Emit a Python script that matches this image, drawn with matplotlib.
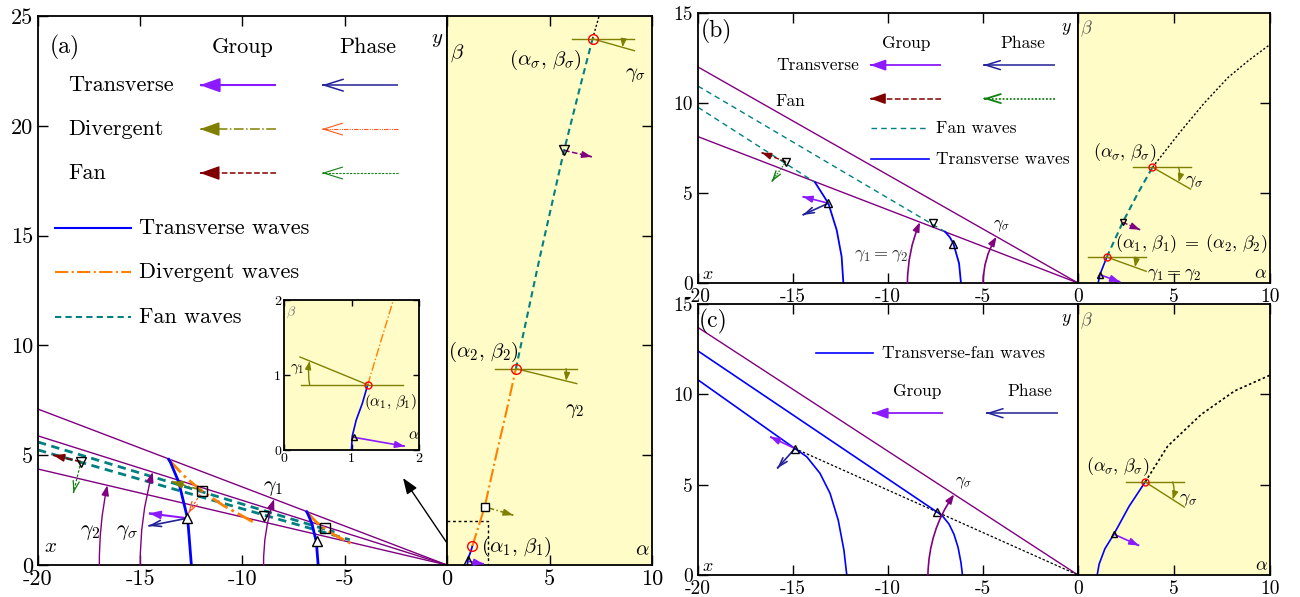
import numpy as np
import matplotlib
matplotlib.use('Agg')
import matplotlib.pyplot as plt

plt.rcParams['font.family'] = ['cmr10', 'DejaVu Serif']
plt.rcParams['mathtext.fontset'] = 'cm'
plt.rcParams['axes.unicode_minus'] = False
plt.rcParams['axes.formatter.use_mathtext'] = True

PURPLE = '#800080'
BLUE = '#0000ff'
TEAL = '#008080'
ORANGE = '#ff8000'
VIOLET = '#8c1aff'
NAVY = '#22229a'
OLIVE = '#808000'
REDORANGE = '#ff5a1e'
MAROON = '#800000'
GREEN = '#108010'
YELLOW = '#fffcc8'

# ---------------- panel (a), physical plane ----------------
a_xticks = [-20, -15, -10, -5, 0]
a_yticks = [0, 5, 10, 15, 20, 25]
a_ray_y20 = [7.1, 5.88, 4.37]          # ray height at x = -20
a_trans_x = [[-12.5, -12.68, -13.12, -13.53, -13.61],
             [-6.3, -6.39, -6.61, -6.82, -6.86]]
a_trans_y = [[0, 2.1, 3.78, 4.69, 4.81],
             [0, 1.06, 1.9, 2.36, 2.42]]
a_div_x = [[-13.61, -13.53, -12.75, -11.98, -10.94, -9.5],
           [-6.86, -6.82, -6.43, -6.04, -5.51, -4.7]]
a_div_y = [[4.81, 4.72, 3.96, 3.37, 2.71, 1.97],
           [2.42, 2.38, 1.99, 1.70, 1.37, 0.98]]
a_fan_x = [[-20, -5.5], [-20, -4.75]]
a_fan_y = [[5.6, 1.5], [5.24, 1.15]]
a_tri_up = ([-12.7, -6.35], [2.13, 1.1])
a_square = ([-11.96, -5.97], [3.39, 1.67])
a_tri_dn = ([-17.9, -8.93], [4.7, 2.25])
a_group_tr = [(-12.7, 2.13), (-14.57, 2.35)]
a_phase_tr = [(-12.7, 2.13), (-14.6, 1.78)]
a_group_dv = [(-11.96, 3.39), (-13.46, 3.8)]
a_phase_dv = [(-11.96, 3.39), (-12.65, 2.35)]
a_group_fn = [(-17.9, 4.7), (-19.25, 5.0)]
a_phase_fn = [(-17.9, 4.7), (-18.27, 3.28)]
a_arc_r = [17.0, 15.0, 8.97]           # gamma_2, gamma_sigma, gamma_1
a_arc_ray = [2, 1, 0]
a_pointer = [(0, 1.0), (-2.15, 3.96)]

# ---------------- panel (a), (alpha, beta) plane ----------------
a_blue_al = [1.0, 1.01, 1.07, 1.16, 1.24]
a_blue_be = [0, 0.18, 0.4, 0.62, 0.87]
a_orng_al = [1.24, 1.84, 2.4, 2.9, 3.36]
a_orng_be = [0.87, 2.65, 5.0, 7.0, 8.94]
a_teal_al = [3.36, 4.5, 5.71, 6.5, 7.10]
a_teal_be = [8.94, 13.9, 18.88, 21.8, 23.96]
a_dot_al = [7.10, 7.42]
a_dot_be = [23.96, 25.0]
a_crit_al = [1.24, 3.36, 7.10]
a_crit_be = [0.87, 8.94, 23.96]
a_y_tri = (1.03, 0.17)
a_y_sq = (1.84, 2.65)
a_y_dn = (5.71, 18.88)
a_y_tri_tip = (1.79, 0.05)
a_y_sq_tip = (3.23, 2.27)
a_y_dn_tip = (7.06, 18.59)
a_olive_h = [(2.33, 6.33), (6.08, 9.14)]     # horizontal spans at beta_2, beta_sigma
a_olive_end = [(6.33, 8.26), (9.14, 23.42)]
a_olive_arc = [5.81, 8.56]
a_box = 2.0

# inset (zoom near alpha_1, beta_1)
i_ticks = [0, 1, 2]
i_h = (0.25, 1.76)
i_end = (0.237, 1.24)
i_arc = 0.38
i_orng_end = (1.62, 2.0)
i_tri_tip = (1.79, 0.05)

# ---------------- panel (b) ----------------
bc_xticks = [-20, -15, -10, -5, 0]
bc_yticks = [0, 5, 10, 15]
b_ray_y20 = [12.0, 8.13]
b_trans_x = [[-12.35, -12.44, -12.7, -13.14, -13.84],
             [-6.16, -6.26, -6.56, -6.75, -7.0]]
b_trans_y = [[0, 1.46, 2.94, 4.43, 5.59],
             [0, 1.09, 2.2, 2.55, 2.85]]
b_fan_x = [[-20, -13.84], [-20, -7.0]]
b_fan_y = [[9.76, 5.59], [10.94, 2.85]]
b_tri_up = ([-13.14, -6.56], [4.43, 2.15])
b_tri_dn = ([-15.37, -7.65], [6.74, 3.35])
b_group_fn = [(-15.37, 6.74), (-16.65, 7.24)]
b_phase_fn = [(-15.37, 6.74), (-16.12, 5.63)]
b_group_tr = [(-13.14, 4.43), (-14.49, 4.8)]
b_phase_tr = [(-13.14, 4.43), (-14.49, 3.78)]
b_arc_r = [8.98, 5.0]
b_arc_ray = [1, 0]

b_blue_al = [1.05, 1.14, 1.32, 1.50]
b_blue_be = [0, 0.46, 0.95, 1.44]
b_teal_al = [1.50, 2.33, 3.1, 3.88]
b_teal_be = [1.44, 3.37, 4.95, 6.43]
b_dot_al = [3.88, 5.32, 6.57, 7.81, 8.87, 10.0]
b_dot_be = [6.43, 8.39, 9.99, 11.41, 12.35, 13.25]
b_crit_al = [1.50, 3.88]
b_crit_be = [1.44, 6.43]
b_y_tri = (1.14, 0.46)
b_y_dn = (2.33, 3.37)
b_y_tri_tip = (2.19, 0.06)
b_y_dn_tip = (3.23, 2.96)
b_olive_h = [(0.52, 3.55), (2.88, 5.86)]
b_olive_end = [(3.55, 0.65), (5.86, 5.22)]
b_olive_arc = [2.97, 5.24]

# ---------------- panel (c) ----------------
c_ray_y20 = [13.7]
c_tf_x = [[-20, -14.9, -14.28, -13.58, -13.05, -12.62, -12.32, -12.17],
          [-20, -7.44, -7.14, -6.79, -6.53, -6.31, -6.16, -6.08]]
c_tf_y = [[10.8, 7.0, 6.55, 5.63, 4.52, 3.04, 1.38, 0],
          [12.4, 3.5, 3.28, 2.82, 2.26, 1.52, 0.69, 0]]
c_tri_up = ([-14.9, -7.44], [7.0, 3.5])
c_group_tr = [(-14.9, 7.0), (-16.2, 7.65)]
c_phase_tr = [(-14.9, 7.0), (-15.83, 5.9)]
c_arc_r = [7.9]

c_blue_al = [1.0, 1.1, 1.4, 1.87, 2.66, 3.5]
c_blue_be = [0, 0.6, 1.45, 2.26, 3.8, 5.15]
c_dot_al = [3.5, 4.67, 6.42, 8.16, 10.0]
c_dot_be = [5.15, 7.13, 8.89, 10.19, 11.06]
c_crit = (3.5, 5.15)
c_y_tri = (1.87, 2.26)
c_y_tri_tip = (3.18, 1.63)
c_olive_h = (2.52, 5.54)
c_olive_end = (5.54, 3.76)
c_olive_arc = 4.93

yz_xticks = [0, 5, 10]


def rect(px0, py0, px1, py1):
    return [px0 / 1300, 1 - py1 / 597, (px1 - px0) / 1300, (py1 - py0) / 597]


def vec(ax, p0, p1, color, ls='-', lw=1.2, open_head=False, ms=9, tr=None):
    tr = tr or ax.transData
    ax.plot([p0[0], p1[0]], [p0[1], p1[1]], color=color, ls=ls, lw=lw,
            transform=tr, solid_capstyle='butt')
    if open_head:
        style = '->,head_length=0.8,head_width=0.25'
    else:
        style = '-|>,head_length=0.7,head_width=0.25'
    q = (p1[0] - 0.02 * (p1[0] - p0[0]), p1[1] - 0.02 * (p1[1] - p0[1]))
    ax.annotate('', xy=p1, xytext=q, xycoords=tr, textcoords=tr,
                arrowprops=dict(arrowstyle=style, color=color, lw=lw,
                                shrinkA=0, shrinkB=0, mutation_scale=ms))


def angle_arc(ax, start, end, color, ang, lw=1.0, ms=10):
    ax.annotate('', xy=end, xytext=start,
                arrowprops=dict(arrowstyle='-|>,head_length=0.6,head_width=0.22',
                                color=color, lw=lw, shrinkA=0, shrinkB=0,
                                mutation_scale=ms,
                                connectionstyle='arc3,rad=%.3f' % (-np.tan(ang / 4))))


def ray_arcs(ax, radii, rays, y20s, lw=1.0, ms=10):
    for R, k in zip(radii, rays):
        th = np.arctan(y20s[k] / 20)
        angle_arc(ax, (-R, 0), (-R * np.cos(th), R * np.sin(th)), PURPLE, th, lw, ms)


def olive_marker(ax, c, span, end, arc_al, lw=1.0, ms=8):
    ax.plot(span, [c[1], c[1]], color=OLIVE, lw=lw)
    ax.plot([c[0], end[0]], [c[1], end[1]], color=OLIVE, lw=lw)
    t = (arc_al - c[0]) / (end[0] - c[0])
    e = (c[0] + t * (end[0] - c[0]), c[1] + t * (end[1] - c[1]))
    ang = np.arctan(abs(end[1] - c[1]) / abs(end[0] - c[0]))
    angle_arc(ax, (arc_al, c[1]), e, OLIVE, ang, lw, ms)


def style(ax, fs, length=6):
    ax.tick_params(direction='in', labelsize=fs, length=length, width=1)
    for s in ax.spines.values():
        s.set_linewidth(1.3)


def phys_axes(r, xt, yt, ylim, fs):
    ax = fig.add_axes(r)
    ax.set_xlim(-20, 0)
    ax.set_ylim(*ylim)
    ax.set_xticks(xt)
    ax.set_xticklabels([str(v) for v in xt[:-1]] + [''])
    ax.set_yticks(yt)
    ax.set_yticklabels([str(v) for v in yt])
    style(ax, fs, 7)
    ax.tick_params(top=True)
    return ax


def ab_axes(r, yt, ylim, fs):
    ax = fig.add_axes(r, facecolor=YELLOW)
    ax.set_xlim(0, 10)
    ax.set_ylim(*ylim)
    ax.set_xticks(yz_xticks)
    ax.set_xticklabels([str(v) for v in yz_xticks])
    ax.set_yticks(yt)
    style(ax, fs, 7)
    ax.tick_params(left=False, right=True, top=True, labelleft=False)
    return ax


fig = plt.figure(figsize=(13, 5.97), dpi=100)

# ======================= (a) physical =======================
ax = phys_axes(rect(38, 16, 447, 565), a_xticks, a_yticks, (0, 25), 16)
for y20 in a_ray_y20:
    ax.plot([-20, 0], [y20, 0], color=PURPLE, lw=1)
for xs, ys in zip(a_fan_x, a_fan_y):
    ax.plot(xs, ys, color=TEAL, lw=2, ls=(0, (3, 2)))
for xs, ys in zip(a_div_x, a_div_y):
    ax.plot(xs, ys, color=ORANGE, lw=2, ls='-.')
for xs, ys in zip(a_trans_x, a_trans_y):
    ax.plot(xs, ys, color=BLUE, lw=2)
ray_arcs(ax, a_arc_r, a_arc_ray, a_ray_y20)
vec(ax, *a_group_tr, VIOLET, lw=1.5)
vec(ax, *a_phase_tr, NAVY, lw=1.2, open_head=True)
vec(ax, *a_group_dv, OLIVE, ls='-.', lw=1.2)
vec(ax, *a_phase_dv, REDORANGE, ls=(0, (2, 1.5)), lw=0.9, open_head=True)
vec(ax, *a_group_fn, MAROON, ls='--', lw=1.2)
vec(ax, *a_phase_fn, GREEN, ls=(0, (2, 1.5)), lw=0.9, open_head=True)
ax.plot(*a_tri_up, '^', mfc='white', mec='k', ms=7, mew=1)
ax.plot(*a_square, 's', mfc='none', mec='k', ms=6.5, mew=1)
ax.plot(*a_tri_dn, 'v', mfc='none', mec='k', ms=7, mew=1)
ax.annotate('', xy=a_pointer[1], xytext=a_pointer[0],
            arrowprops=dict(arrowstyle='-|>,head_length=0.8,head_width=0.3',
                            color='k', lw=1, shrinkA=0, shrinkB=0, mutation_scale=12))
ax.text(-17.45, 1.5, r'$\gamma_2$', fontsize=16, ha='center', va='center')
ax.text(-15.65, 1.5, r'$\gamma_\sigma$', fontsize=16, ha='center', va='center')
ax.text(-8.5, 3.5, r'$\gamma_1$', fontsize=16, ha='center', va='center')
ax.text(-19.4, 0.8, r'$x$', fontsize=15, ha='center', va='center')
ax.text(-0.5, 23.9, r'$y$', fontsize=15, ha='center', va='center')

# legend of (a)
T = ax.transAxes
ax.text(0.028, 0.943, '(a)', fontsize=17, transform=T, va='center')
ax.text(0.501, 0.943, 'Group', fontsize=16, transform=T, ha='center', va='center')
ax.text(0.807, 0.943, 'Phase', fontsize=16, transform=T, ha='center', va='center')
rows = [0.874, 0.794, 0.714]
names = ['Transverse', 'Divergent', 'Fan']
gst = [(VIOLET, '-', 1.5), (OLIVE, '-.', 1.1), (MAROON, '--', 1.1)]
pst = [(NAVY, '-', 1.1), (REDORANGE, (0, (4, 1, 1, 1, 1, 1)), 0.8), (GREEN, (0, (2, 1.2)), 0.8)]
for fy, nm, g, p in zip(rows, names, gst, pst):
    ax.text(0.073, fy, nm, fontsize=16, transform=T, va='center')
    vec(ax, (0.582, fy), (0.396, fy), g[0], ls=g[1], lw=g[2], ms=17, tr=T)
    vec(ax, (0.880, fy), (0.694, fy), p[0], ls=p[1], lw=p[2], open_head=True, ms=17, tr=T)
lrows = [0.614, 0.534, 0.452]
lnames = ['Transverse waves', 'Divergent waves', 'Fan waves']
lst = [(BLUE, '-'), (ORANGE, '-.'), (TEAL, (0, (3, 2)))]
for fy, nm, s in zip(lrows, lnames, lst):
    ax.plot([0.042, 0.227], [fy, fy], color=s[0], ls=s[1], lw=1.5, transform=T)
    ax.text(0.247, fy, nm, fontsize=16, transform=T, va='center')

# ======================= (a) alpha-beta =======================
ay = ab_axes(rect(447, 16, 652, 565), [5, 10, 15, 20], (0, 25), 16)
ay.plot([0, a_box, a_box], [a_box, a_box, 0], color='k', lw=1, ls=(0, (2, 2)))
ay.plot(a_blue_al, a_blue_be, color=BLUE, lw=1.3)
ay.plot(a_orng_al, a_orng_be, color=ORANGE, lw=1.5, ls='-.')
ay.plot(a_teal_al, a_teal_be, color=TEAL, lw=1.5, ls=(0, (3, 2)))
ay.plot(a_dot_al, a_dot_be, color='k', lw=1, ls=(0, (1.5, 1.5)))
for k in range(2):
    c = (a_crit_al[k + 1], a_crit_be[k + 1])
    olive_marker(ay, c, a_olive_h[k], a_olive_end[k], a_olive_arc[k])
vec(ay, a_y_dn, a_y_dn_tip, PURPLE, ls='--', lw=1.1, ms=8)
vec(ay, a_y_sq, a_y_sq_tip, OLIVE, ls='-.', lw=1.1, ms=8)
vec(ay, a_y_tri, a_y_tri_tip, VIOLET, lw=1.2, ms=8)
ay.plot(a_crit_al, a_crit_be, 'o', mfc='none', mec='red', ms=7, mew=1)
ay.plot(*a_y_tri, '^', mfc='none', mec='k', ms=7, mew=1)
ay.plot(*a_y_sq, 's', mfc='white', mec='k', ms=6, mew=1)
ay.plot(*a_y_dn, 'v', mfc='none', mec='k', ms=7, mew=1)
ay.text(4.78, 23.0, r'$(\alpha_\sigma,\,\beta_\sigma)$', fontsize=15, ha='center', va='center')
ay.text(9.18, 22.3, r'$\gamma_\sigma$', fontsize=15, ha='center', va='center')
ay.text(1.76, 9.68, r'$(\alpha_2,\,\beta_2)$', fontsize=15, ha='center', va='center')
ay.text(6.25, 7.0, r'$\gamma_2$', fontsize=15, ha='center', va='center')
ay.text(3.4, 0.83, r'$(\alpha_1,\,\beta_1)$', fontsize=15, ha='center', va='center')
ay.text(0.5, 23.3, r'$\beta$', fontsize=15, ha='center', va='center')
ay.text(9.55, 0.65, r'$\alpha$', fontsize=15, ha='center', va='center')

# ======================= inset =======================
ai = fig.add_axes(rect(284, 300, 419, 450), facecolor=YELLOW)
ai.set_xlim(0, 2)
ai.set_ylim(0, 2)
ai.set_xticks(i_ticks)
ai.set_yticks(i_ticks)
ai.set_xticklabels([str(v) for v in i_ticks])
ai.set_yticklabels([str(v) for v in i_ticks])
style(ai, 10, 4)
ai.tick_params(top=True, right=True, pad=2)
ai.plot(a_blue_al, a_blue_be, color=BLUE, lw=1.2)
ai.plot([a_crit_al[0], i_orng_end[0]], [a_crit_be[0], i_orng_end[1]], color=ORANGE, lw=1, ls='-.')
ic = (a_crit_al[0], a_crit_be[0])
olive_marker(ai, ic, i_h, i_end, i_arc, lw=1.0, ms=8)
vec(ai, a_y_tri, i_tri_tip, VIOLET, lw=1.2, ms=8)
ai.plot(*ic, 'o', mfc='none', mec='red', ms=5, mew=1)
ai.plot(*a_y_tri, '^', mfc='none', mec='k', ms=5, mew=1)
ai.text(0.2, 1.08, r'$\gamma_1$', fontsize=11, ha='center', va='center')
ai.text(1.57, 0.64, r'$(\alpha_1,\,\beta_1)$', fontsize=11, ha='center', va='center')
ai.text(0.1, 1.84, r'$\beta$', fontsize=10, ha='center', va='center', color='#777777')
ai.text(1.92, 0.2, r'$\alpha$', fontsize=11, ha='center', va='center')

# ======================= (b) physical =======================
bx = phys_axes(rect(698, 13, 1078, 283), bc_xticks, bc_yticks, (0, 15), 14)
for y20 in b_ray_y20:
    bx.plot([-20, 0], [y20, 0], color=PURPLE, lw=1)
for xs, ys in zip(b_fan_x, b_fan_y):
    bx.plot(xs, ys, color=TEAL, lw=1, ls=(0, (4, 3)))
for xs, ys in zip(b_trans_x, b_trans_y):
    bx.plot(xs, ys, color=BLUE, lw=1.3)
ray_arcs(bx, b_arc_r, b_arc_ray, b_ray_y20, lw=1.2, ms=9)
vec(bx, *b_group_fn, MAROON, ls='--', lw=1, ms=8)
vec(bx, *b_phase_fn, GREEN, ls=(0, (1, 1)), lw=1, open_head=True, ms=8)
vec(bx, *b_group_tr, VIOLET, lw=1.2, ms=8)
vec(bx, *b_phase_tr, NAVY, lw=1.2, open_head=True, ms=8)
bx.plot(*b_tri_up, '^', mfc='none', mec='k', ms=5.5, mew=1)
bx.plot(*b_tri_dn, 'v', mfc='none', mec='k', ms=5.5, mew=1)
bx.text(-10.35, 1.5, r'$\gamma_1 = \gamma_2$', fontsize=13, ha='center', va='center', color='#333333')
bx.text(-4.0, 3.2, r'$\gamma_\sigma$', fontsize=12, ha='center', va='center')
bx.text(-19.5, 0.5, r'$x$', fontsize=13, ha='center', va='center')
bx.text(-0.6, 14.1, r'$y$', fontsize=13, ha='center', va='center')
T = bx.transAxes
bx.text(0.008, 0.931, '(b)', fontsize=17, transform=T, va='center')
bx.text(0.547, 0.888, 'Group', fontsize=12.5, transform=T, ha='center', va='center')
bx.text(0.854, 0.888, 'Phase', fontsize=12.5, transform=T, ha='center', va='center')
bx.text(0.205, 0.807, 'Transverse', fontsize=12.5, transform=T, va='center')
vec(bx, (0.639, 0.807), (0.453, 0.807), VIOLET, lw=1.3, ms=13, tr=T)
vec(bx, (0.939, 0.807), (0.751, 0.807), NAVY, lw=1.1, open_head=True, ms=13, tr=T)
bx.text(0.205, 0.674, 'Fan', fontsize=12.5, transform=T, va='center')
vec(bx, (0.639, 0.683), (0.453, 0.683), MAROON, ls='--', lw=1.1, ms=13, tr=T)
vec(bx, (0.939, 0.683), (0.751, 0.683), GREEN, ls=(0, (1, 1)), lw=1.3, open_head=True, ms=13, tr=T)
bx.plot([0.454, 0.609], [0.573, 0.573], color=TEAL, ls=(0, (4, 3)), lw=1, transform=T)
bx.text(0.626, 0.573, 'Fan waves', fontsize=12.5, transform=T, va='center')
bx.plot([0.454, 0.609], [0.459, 0.459], color=BLUE, lw=1.2, transform=T)
bx.text(0.626, 0.459, 'Transverse waves', fontsize=12.5, transform=T, va='center')

# ======================= (b) alpha-beta =======================
by = ab_axes(rect(1078, 13, 1270, 283), [5, 10], (0, 15), 14)
by.plot(b_blue_al, b_blue_be, color=BLUE, lw=1.2)
by.plot(b_teal_al, b_teal_be, color=TEAL, lw=1.5, ls=(0, (3, 2)))
by.plot(b_dot_al, b_dot_be, color='k', lw=1, ls=(0, (1.5, 1.5)))
for k in range(2):
    olive_marker(by, (b_crit_al[k], b_crit_be[k]), b_olive_h[k], b_olive_end[k], b_olive_arc[k])
vec(by, b_y_dn, b_y_dn_tip, PURPLE, ls='--', lw=1, ms=8)
vec(by, b_y_tri, b_y_tri_tip, VIOLET, lw=1.2, ms=8)
by.plot(b_crit_al, b_crit_be, 'o', mfc='none', mec='red', ms=5, mew=1)
by.plot(*b_y_tri, '^', mfc='none', mec='k', ms=5, mew=1)
by.plot(*b_y_dn, 'v', mfc='none', mec='k', ms=5, mew=1)
by.text(2.45, 7.26, r'$(\alpha_\sigma,\,\beta_\sigma)$', fontsize=13, ha='center', va='center')
by.text(6.05, 5.6, r'$\gamma_\sigma$', fontsize=13, ha='center', va='center')
by.text(5.9, 2.2, r'$(\alpha_1,\,\beta_1)\;=\;(\alpha_2,\,\beta_2)$', fontsize=13, ha='center', va='center')
by.text(5.0, 0.46, r'$\gamma_1 = \gamma_2$', fontsize=13, ha='center', va='center')
by.text(0.45, 14.1, r'$\beta$', fontsize=13, ha='center', va='center', color='#555555')
by.text(9.5, 0.5, r'$\alpha$', fontsize=13, ha='center', va='center')

# ======================= (c) physical =======================
cx = phys_axes(rect(698, 304, 1078, 575), bc_xticks, bc_yticks, (0, 15), 14)
for y20 in c_ray_y20:
    cx.plot([-20, 0], [y20, 0], color=PURPLE, lw=1)
cx.plot([c_tri_up[0][0], 0], [c_tri_up[1][0], 0], color='k', lw=0.9, ls=(0, (2, 1.5)))
for xs, ys in zip(c_tf_x, c_tf_y):
    cx.plot(xs, ys, color=BLUE, lw=1.2)
ray_arcs(cx, c_arc_r, [0], c_ray_y20, lw=1.2, ms=9)
vec(cx, *c_group_tr, VIOLET, lw=1.2, ms=8)
vec(cx, *c_phase_tr, NAVY, lw=1.2, open_head=True, ms=8)
cx.plot(*c_tri_up, '^', mfc='none', mec='k', ms=5.5, mew=1)
cx.text(-6.0, 5.1, r'$\gamma_\sigma$', fontsize=12, ha='center', va='center')
cx.text(-19.5, 0.5, r'$x$', fontsize=13, ha='center', va='center')
cx.text(-0.6, 14.1, r'$y$', fontsize=13, ha='center', va='center')
T = cx.transAxes
cx.text(0.003, 0.935, '(c)', fontsize=17, transform=T, va='center')
cx.plot([0.311, 0.461], [0.818, 0.818], color=BLUE, lw=1.2, transform=T)
cx.text(0.483, 0.818, 'Transverse-fan waves', fontsize=12.5, transform=T, va='center')
cx.text(0.576, 0.679, 'Group', fontsize=12.5, transform=T, ha='center', va='center')
cx.text(0.872, 0.679, 'Phase', fontsize=12.5, transform=T, ha='center', va='center')
vec(cx, (0.646, 0.597), (0.459, 0.597), VIOLET, lw=1.3, ms=13, tr=T)
vec(cx, (0.948, 0.597), (0.758, 0.597), NAVY, lw=1.1, open_head=True, ms=13, tr=T)

# ======================= (c) alpha-beta =======================
cy = ab_axes(rect(1078, 304, 1270, 575), [5, 10], (0, 15), 14)
cy.plot(c_blue_al, c_blue_be, color=BLUE, lw=1.2)
cy.plot(c_dot_al, c_dot_be, color='k', lw=1.2, ls=(0, (1.5, 1.5)))
olive_marker(cy, c_crit, c_olive_h, c_olive_end, c_olive_arc)
vec(cy, c_y_tri, c_y_tri_tip, VIOLET, lw=1.2, ms=8)
cy.plot(*c_crit, 'o', mfc='none', mec='red', ms=5, mew=1)
cy.plot(*c_y_tri, '^', mfc='none', mec='k', ms=5, mew=1)
cy.text(2.05, 6.0, r'$(\alpha_\sigma,\,\beta_\sigma)$', fontsize=13, ha='center', va='center')
cy.text(5.75, 4.15, r'$\gamma_\sigma$', fontsize=13, ha='center', va='center')
cy.text(0.45, 14.1, r'$\beta$', fontsize=13, ha='center', va='center', color='#555555')
cy.text(9.55, 0.5, r'$\alpha$', fontsize=13, ha='center', va='center')

fig.savefig('out.png', dpi=100)
